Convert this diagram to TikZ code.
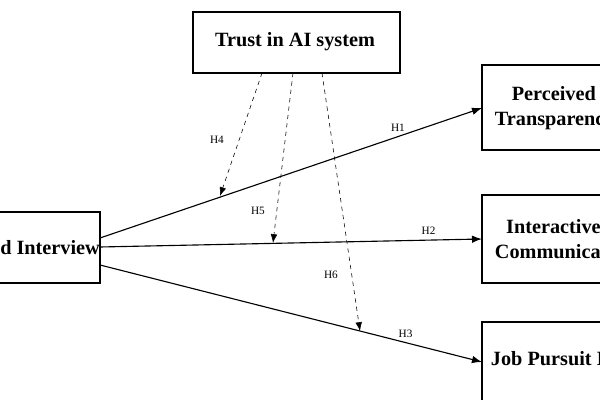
\documentclass[tikz,border=0pt]{standalone}
\usepackage{fontspec}
\setmainfont{Liberation Serif}
\usetikzlibrary{arrows.meta}
\tikzset{
  box/.style={draw, thick},
  lbl/.style={font=\bfseries\Large},
  hyp/.style={font=\footnotesize},
  path/.style={thick, -{Latex[length=2.5mm]}},
  mod/.style={thin, dashed, -{Latex[length=2.2mm]}}
}
\begin{document}
\begin{tikzpicture}[x=0.025cm, y=-0.025cm]
  \useasboundingbox (0,0) rectangle (600,400);
  \clip (0,0) rectangle (600,400);

  \draw[box] (193,12) rectangle (400,73);
  \node[lbl] (T) at (295,42) {Trust in AI system};

  \draw[box] (-10,212) rectangle (100,283);
  \node[lbl, anchor=west, inner sep=0pt] (X) at (0,248) {d Interview};

  \draw[box] (482,65) rectangle (620,150);
  \node[lbl, anchor=west, align=left] (P) at (490,108) {\hspace{12pt}Perceived\\Transparency};
  \draw[box] (482,195) rectangle (620,283);
  \node[lbl, anchor=west, align=left] (C) at (490,239) {\hspace{8pt}Interactive\\Communication};
  \draw[box] (482,322) rectangle (620,420);
  \node[lbl, anchor=west] (J) at (486,359) {Job Pursuit Intention};

  \coordinate (x1) at (100,238);
  \coordinate (x2) at (100,247);
  \coordinate (x3) at (100,265);
  \coordinate (p) at (482,108);
  \coordinate (c) at (482,239);
  \coordinate (j) at (482,362);
  \draw[path] (x1) -- node[hyp, pos=0.78, above] {H1} (p);
  \draw[path] (x2) -- node[hyp, pos=0.86, above] {H2} (c);
  \draw[path] (x3) -- node[hyp, pos=0.8, above] {H3} (j);

  \coordinate (t4) at (262,73);
  \coordinate (t5) at (293,73);
  \coordinate (t6) at (322,73);
  \coordinate (m1) at (220,196);
  \coordinate (m2) at (273,243);
  \coordinate (m3) at (360,331);
  \node[hyp] (h4) at (217,140) {H4};
  \node[hyp] (h5) at (258,211) {H5};
  \node[hyp] (h6) at (331,275) {H6};
  \draw[mod] (t4) -- (m1);
  \draw[mod] (t5) -- (m2);
  \draw[mod] (t6) -- (m3);
\end{tikzpicture}
\end{document}
